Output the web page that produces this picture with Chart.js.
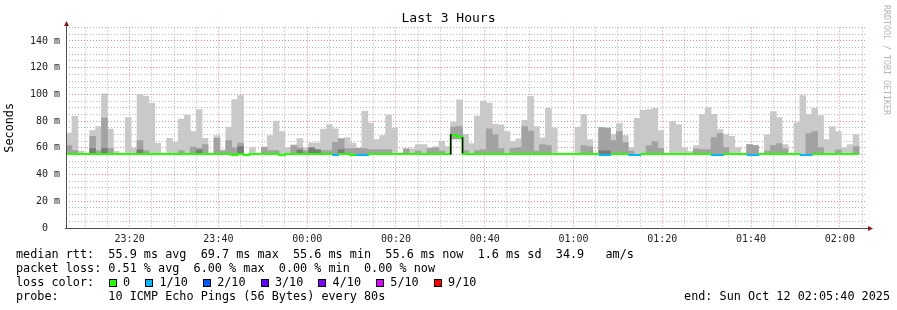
<!DOCTYPE html>
<html lang="en">
<head>
<meta charset="UTF-8">
<title>Last 3 Hours</title>
<script src="https://cdn.jsdelivr.net/npm/chart.js"></script>
<style>
    body { margin: 0; background: #fff; }
    #wrap { position: relative; width: 897px; height: 310px; font-family: 'DejaVu Sans Mono', monospace; color: #000; }
    .row { position: absolute; left: 16px; font-size: 11.8px; line-height: 14px; white-space: pre; }
    .box { display: inline-block; width: 6px; height: 6px; border: 1px solid #000; vertical-align: top; position: relative; top: 4px; margin-left: 15px; }
    .box.first { margin-left: 14.6px; }
    .txt { display: inline-block; margin-left: 6.3px; }
    #end { position: absolute; right: 7px; top: 289px; font-size: 11.8px; line-height: 14px; white-space: pre; }
    #credit { position: absolute; left: 882px; top: 5px; writing-mode: vertical-rl; font-size: 8.3px; color: #b4b4b4; }
</style>
</head>
<body>
<div id="wrap">
    <canvas id="chart" width="897" height="310"></canvas>
    <div class="row" style="top:247px">median rtt:  55.9 ms avg  69.7 ms max  55.6 ms min  55.6 ms now  1.6 ms sd  34.9   am/s</div>
    <div class="row" style="top:261px">packet loss: 0.51 % avg  6.00 % max  0.00 % min  0.00 % now</div>
    <div class="row" id="lossRow" style="top:275px">loss color:</div>
    <div class="row" style="top:289px">probe:       10 ICMP Echo Pings (56 Bytes) every 80s</div>
    <div id="end">end: Sun Oct 12 02:05:40 2025</div>
    <div id="credit">RRDTOOL / TOBI OETIKER</div>
</div>
<script>
    // 80 s steps starting 23:05:40, x values are minutes after 23:00
    const startMin = 5 + 40 / 60;
    const stepMin = 80 / 60;
    const endMin = startMin + 180;

    // top of the light smoke (slowest ping), null = no smoke drawn
    const maxRtt = [
        71, 83.5, 57.5, null, 73, 76, 100.5, 74, 57.3, null,
        82.7, 59.7, 100, 98.5, 93.3, 63.3, null, 67.2, 64.2, 81.5,
        84.5, 72.2, 88.7, 67.2, null, 69.2, 58.5, 75.5, 96.2, 99.2,
        null, 60.2, null, 60.7, 69.2, 80, 72.2, 60.2, 62.2, 67,
        60, 63.7, 63.7, 74, 77.5, 74.2, 66.7, 67.7, 63.5, 59.7,
        87.5, 78.5, 66.2, 69.2, 84.5, 74.7, null, 59.2, 59.2, 62.5,
        62.5, 60.2, 61, 65, 61, 79.2, 96, 70.2, 63.2, 83.7,
        95, 93.5, 77.7, 77.2, 72.2, 64.7, 66.7, 80.5, 98.5, 76,
        67.5, 89.7, 75, null, null, null, 75.5, 85, 66.2, null,
        75.2, 74.7, 70, 78.2, 69.2, 60.2, 82, 88, 88.7, 89.5,
        73, null, 79.7, 77.5, 60.2, 57.2, 61.7, 85, 90.2, 85,
        73.7, 70, 68.7, 60.2, null, 62.5, 61.7, null, 70, 87.2,
        82.7, 62.5, null, 79, 99.2, 85, 89.5, 84.2, 66.2, 76,
        72.2, 60.2, 62.5, 70
    ];

    // top of the darker inner smoke
    const midRtt = [
        61.7, 58, null, null, 68.7, 58, 82.2, 59.7, null, null,
        null, null, 65.5, 58, null, null, null, null, null, 58,
        null, 60.5, 59.7, 62.5, null, 67.2, 57.5, 65.5, 60, 63.5,
        null, null, null, 60.2, 58, 58, null, null, 61.7, 60,
        58, 60, 58.7, 58, 58, 64.2, 66.7, 59.5, 59.5, 59.7,
        59.5, 58.7, 58.7, 58.7, 58.7, null, null, 59.2, null, 57.5,
        null, 59.5, 60, 57.5, null, 75.5, 76, 58, null, 58,
        58.7, 74.2, 70, 59.5, null, 59.7, 60.2, 76, 72.5, 57.5,
        62.5, 61.7, null, null, null, null, null, 61.7, 61, null,
        75.2, 74.7, 65.5, 72.2, 64, 57.5, null, null, 61.7, 64.7,
        59.7, null, null, null, null, null, 59.2, 58.7, 58.7, 67.7,
        70.7, 60.2, null, null, null, 62.5, 61.7, null, 57.5, 61.7,
        63.2, 59.5, null, null, null, 70.7, 72.2, 60.2, null, null,
        58.5, null, null, 61
    ];

    // darkest core of the smoke
    const coreRtt = [
        null, null, null, null, 59.5, null, 59.5, null, null, null,
        null, null, 58.5, null, null, null, null, null, null, null,
        null, null, 58.3, null, null, null, null, null, null, 61,
        null, null, null, null, null, null, null, null, null, 58.3,
        null, 60, 58.5, null, null, null, 58.5, null, null, null,
        null, null, null, null, null, null, null, null, null, null,
        null, null, null, null, null, null, null, null, null, null,
        null, null, null, null, null, null, null, null, null, null,
        null, null, null, null, null, null, null, null, null, null,
        57.8, 57.8, null, null, null, null, null, null, null, null,
        null, null, null, null, null, null, null, null, null, null,
        null, null, null, null, null, null, null, null, null, null,
        null, null, null, null, null, null, null, null, null, null,
        null, null, null, null
    ];

    // fastest ping (bottom of the smoke)
    const minRtt = [
        55.4, 55.4, 55.4, 55.4, 55.4, 55.4, 55.4, 55.4, 55.4, 55.4,
        55.4, 55.4, 55.4, 55.4, 55.4, 55.4, 55.4, 55.4, 55.4, 55.4,
        55.4, 55.4, 55.4, 55.4, 55.4, 55.4, 55.4, 55.4, 55.4, 55.4,
        55.4, 55.4, 55.4, 55.4, 55.4, 55.4, 55.4, 55.4, 55.4, 55.4,
        55.4, 55.4, 55.4, 55.4, 55.4, 55.4, 55.4, 55.4, 55.4, 55.4,
        55.4, 55.4, 55.4, 55.4, 55.4, 55.4, 55.4, 55.4, 55.4, 55.4,
        55.4, 55.4, 55.4, 55.4, 55.4, 66.7, 66.7, 55.4, 55.4, 55.4,
        55.4, 55.4, 55.4, 55.4, 55.4, 55.4, 55.4, 55.4, 55.4, 55.4,
        55.4, 55.4, 55.4, 55.4, 55.4, 55.4, 55.4, 55.4, 55.4, 55.4,
        55.4, 55.4, 55.4, 55.4, 55.4, 55.4, 55.4, 55.4, 55.4, 55.4,
        55.4, 55.4, 55.4, 55.4, 55.4, 55.4, 55.4, 55.4, 55.4, 55.4,
        55.4, 55.4, 55.4, 55.4, 55.4, 55.4, 55.4, 55.4, 55.4, 55.4,
        55.4, 55.4, 55.4, 55.4, 55.4, 55.4, 55.4, 55.4, 55.4, 55.4,
        55.4, 55.4, 55.4, 55.4
    ];

    const medianRtt = [
        55.4, 55.4, 55.4, 55.4, 55.4, 55.4, 55.4, 55.4, 55.4, 55.4,
        55.4, 55.4, 55.4, 55.4, 55.4, 55.4, 55.4, 55.4, 55.4, 55.4,
        55.4, 55.4, 55.4, 55.4, 55.4, 55.4, 55.4, 55.4, 54.7, 55.4,
        54.7, 55.4, 55.4, 55.4, 55.4, 55.4, 54.7, 55.4, 55.4, 55.4,
        55.4, 55.4, 55.4, 55.4, 55.4, 54.7, 55.4, 55.4, 54.7, 54.7,
        54.7, 55.4, 55.4, 55.4, 55.4, 55.4, 55.4, 55.4, 55.4, 55.4,
        55.4, 55.4, 55.4, 55.4, 55.4, 69.7, 68.3, 55.4, 55.4, 55.4,
        55.4, 55.4, 55.4, 55.4, 55.4, 55.4, 55.4, 55.4, 55.4, 55.4,
        55.4, 55.4, 55.4, 55.4, 55.4, 55.4, 55.4, 55.4, 55.4, 55.4,
        54.7, 54.7, 55.4, 55.4, 55.4, 54.7, 54.7, 55.4, 55.4, 55.4,
        55.4, 55.4, 55.4, 55.4, 55.4, 55.4, 55.4, 55.4, 55.4, 54.7,
        54.7, 55.4, 55.4, 55.4, 55.4, 54.7, 54.7, 55.4, 55.4, 55.4,
        55.4, 55.4, 55.4, 55.4, 54.7, 54.7, 55.4, 55.4, 55.4, 55.4,
        55.4, 55.4, 55.4, 55.4
    ];

    // lost pings out of 10 per step
    const lostPings = [
        0, 0, 0, 0, 0, 0, 0, 0, 0, 0,
        0, 0, 0, 0, 0, 0, 0, 0, 0, 0,
        0, 0, 0, 0, 0, 0, 0, 0, 0, 0,
        0, 0, 0, 0, 0, 0, 0, 0, 0, 0,
        0, 0, 0, 0, 0, 1, 0, 0, 0, 1,
        1, 0, 0, 0, 0, 0, 0, 0, 0, 0,
        0, 0, 0, 0, 0, 0, 0, 0, 0, 0,
        0, 0, 0, 0, 0, 0, 0, 0, 0, 0,
        0, 0, 0, 0, 0, 0, 0, 0, 0, 0,
        1, 1, 0, 0, 0, 1, 1, 0, 0, 0,
        0, 0, 0, 0, 0, 0, 0, 0, 0, 1,
        1, 0, 0, 0, 0, 1, 1, 0, 0, 0,
        0, 0, 0, 0, 1, 1, 0, 0, 0, 0,
        0, 0, 0, 0
    ];

    const lossLabels = ['0', '1/10', '2/10', '3/10', '4/10', '5/10', '9/10'];
    const lossColors = ['#26ff00', '#00b8ff', '#0059ff', '#5e00ff', '#7e00ff', '#dd00ff', '#ff0000'];

    // loss colour legend
    const lossRow = document.getElementById('lossRow');
    lossLabels.forEach((label, i) => {
        const box = document.createElement('span');
        box.className = i === 0 ? 'box first' : 'box';
        box.style.background = lossColors[i];
        const txt = document.createElement('span');
        txt.className = 'txt';
        txt.textContent = label;
        lossRow.appendChild(box);
        lossRow.appendChild(txt);
    });

    function stepCenter(i) { return startMin + (i + 0.5) * stepMin; }

    function smoke(tops, color, order) {
        const data = [];
        tops.forEach((v, i) => {
            if (v != null) data.push({ x: stepCenter(i), y: [minRtt[i], v] });
        });
        return {
            type: 'bar', data: data, backgroundColor: color, borderWidth: 0,
            grouped: false, barPercentage: 1, categoryPercentage: 1, order: order
        };
    }

    // median line, one flat piece per step
    const medianPoints = medianRtt.map((v, i) => ({ x: startMin + i * stepMin, y: v }));
    medianPoints.push({ x: startMin + medianRtt.length * stepMin, y: medianRtt[medianRtt.length - 1] });

    // black risers where the median jumps
    const jumpPoints = [];
    medianRtt.forEach((v, i) => {
        if (i > 0 && Math.abs(v - medianRtt[i - 1]) > 5) {
            const x = startMin + i * stepMin;
            jumpPoints.push({ x: x, y: medianRtt[i - 1] - 0.4 }, { x: x, y: v + 0.6 }, { x: x, y: null });
        }
    });

    const xTicks = [];
    for (let m = 10; m < endMin; m += 5) xTicks.push({ value: m });
    const yTicks = [];
    for (let v = 0; v <= 150; v += 5) yTicks.push({ value: v });

    const majorGrid = 'rgba(230, 90, 90, 0.7)';
    const minorGrid = 'rgba(150, 150, 150, 0.7)';
    const tickFont = { family: 'DejaVu Sans Mono', size: 10 };

    const axisArrows = {
        id: 'axisArrows',
        afterDraw(chart) {
            const c = chart.ctx;
            const a = chart.chartArea;
            const l = Math.round(a.left), b = Math.round(a.bottom), t = Math.round(a.top), r = Math.round(a.right);
            c.save();
            c.strokeStyle = '#505050';
            c.lineWidth = 1;
            c.beginPath();
            c.moveTo(l + 0.5, b + 1);
            c.lineTo(l + 0.5, t - 2);
            c.moveTo(l - 1, b + 0.5);
            c.lineTo(r + 4, b + 0.5);
            c.stroke();
            c.fillStyle = '#8b1a1a';
            c.beginPath();
            c.moveTo(l - 2, t - 2);
            c.lineTo(l + 3, t - 2);
            c.lineTo(l + 0.5, t - 7);
            c.closePath();
            c.fill();
            c.beginPath();
            c.moveTo(r + 3, b - 2);
            c.lineTo(r + 3, b + 3);
            c.lineTo(r + 8, b + 0.5);
            c.closePath();
            c.fill();
            c.restore();
        }
    };

    new Chart(document.getElementById('chart').getContext('2d'), {
        type: 'bar',
        data: {
            datasets: [
                {
                    type: 'line', data: jumpPoints, borderColor: '#000', borderWidth: 1.5,
                    pointRadius: 0, spanGaps: false, order: -1
                },
                {
                    type: 'line', data: medianPoints, stepped: true, borderWidth: 2, pointRadius: 0,
                    borderColor: lossColors[0],
                    segment: { borderColor: ctx => lossColors[lostPings[ctx.p0DataIndex]] || lossColors[0] },
                    order: 0
                },
                smoke(coreRtt, '#7a7a7a', 2),
                smoke(midRtt, '#a2a2a2', 3),
                smoke(maxRtt, '#c9c9c9', 4)
            ]
        },
        options: {
            responsive: false,
            animation: false,
            layout: { padding: 0 },
            plugins: {
                legend: { display: false },
                tooltip: { enabled: false },
                title: {
                    display: true, text: 'Last 3 Hours', color: '#000',
                    font: { family: 'DejaVu Sans Mono', size: 13, weight: 'normal' },
                    padding: { top: 11, bottom: 1 }
                }
            },
            scales: {
                x: {
                    type: 'linear', min: startMin, max: endMin, offset: false,
                    afterBuildTicks: s => { s.ticks = xTicks.map(t => ({ value: t.value })); },
                    afterFit: s => { s.height = 82; },
                    grid: {
                        offset: false, drawTicks: false, lineWidth: 1,
                        color: c => (c.tick && c.tick.value % 20 === 0) ? majorGrid : minorGrid
                    },
                    border: { display: false, dash: [1, 2] },
                    ticks: {
                        autoSkip: false, maxRotation: 0, padding: 5, color: '#222', font: tickFont,
                        callback: v => {
                            if (v % 20 !== 0) return '';
                            const h = (23 + Math.floor(v / 60)) % 24;
                            const m = v % 60;
                            return String(h).padStart(2, '0') + ':' + String(m).padStart(2, '0');
                        }
                    }
                },
                y: {
                    min: 0, max: 150,
                    afterBuildTicks: s => { s.ticks = yTicks.map(t => ({ value: t.value })); },
                    afterFit: s => { s.width = 66; },
                    grid: {
                        drawTicks: false, lineWidth: 1,
                        color: c => (c.tick && c.tick.value % 20 === 0) ? majorGrid : minorGrid
                    },
                    border: { display: false, dash: [1, 2] },
                    title: {
                        display: true, text: 'Seconds', color: '#000',
                        font: { family: 'DejaVu Sans Mono', size: 11.8 },
                        padding: { top: 3, bottom: 0 }
                    },
                    ticks: {
                        autoSkip: false, padding: 6, color: '#222', font: tickFont,
                        callback: v => {
                            if (v % 20 !== 0) return '';
                            return v === 0 ? '0  ' : v + ' m';
                        }
                    }
                },
                yRight: {
                    position: 'right', min: 0, max: 1,
                    afterFit: s => { s.width = 32; },
                    grid: { display: false },
                    border: { display: false },
                    ticks: { display: false }
                }
            }
        },
        plugins: [axisArrows]
    });
</script>
</body>
</html>
